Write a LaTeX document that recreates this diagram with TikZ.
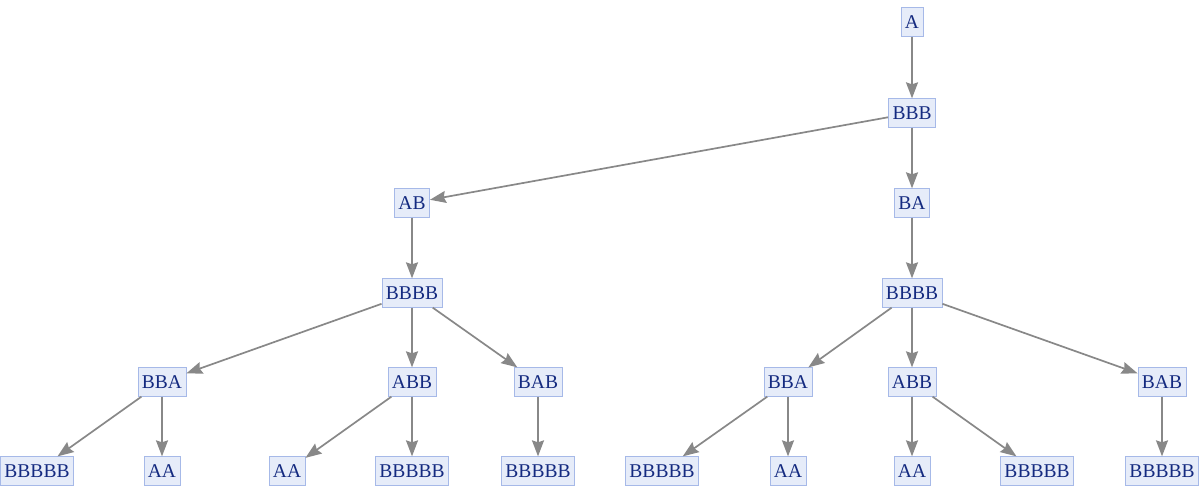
\documentclass[tikz,border=0pt]{standalone}
\usepackage{fontspec}
\setmainfont{Liberation Serif}
\usetikzlibrary{arrows.meta}
\definecolor{nodefill}{HTML}{E6ECF9}
\definecolor{nodedraw}{HTML}{A6B9E8}
\definecolor{nodetext}{HTML}{142A80}
\definecolor{edgecol}{HTML}{888888}
\tikzset{
  vbox/.style={draw=nodedraw, fill=nodefill, text=nodetext, line width=0.8pt,
    font=\fontsize{19.5}{21}\selectfont, inner xsep=4pt, inner ysep=0pt,
    minimum height=28.5pt, text height=13pt, text depth=0pt},
  edge/.style={draw=edgecol, line width=1.7pt, -{Stealth[length=16pt,width=12pt,inset=2pt]}}
}
\begin{document}
\begin{tikzpicture}[x=1pt,y=-1pt]
\useasboundingbox (0,0) rectangle (1202,496);
% rows
\node[vbox] (a) at (912,22) {A};
\node[vbox] (bbb) at (912,113) {BBB};
\node[vbox] (ab) at (412,203) {AB};
\node[vbox] (ba) at (912,203) {BA};
\node[vbox] (l4) at (412,293) {BBBB};
\node[vbox] (r4) at (912,293) {BBBB};
\node[vbox] (lbba) at (162,382) {BBA};
\node[vbox] (labb) at (412,382) {ABB};
\node[vbox] (lbab) at (538,382) {BAB};
\node[vbox] (rbba) at (788,382) {BBA};
\node[vbox] (rabb) at (912,382) {ABB};
\node[vbox] (rbab) at (1162,382) {BAB};
\node[vbox] (x1) at (37,471) {BBBBB};
\node[vbox] (x2) at (162,471) {AA};
\node[vbox] (x3) at (287,471) {AA};
\node[vbox] (x4) at (412,471) {BBBBB};
\node[vbox] (x5) at (538,471) {BBBBB};
\node[vbox] (x6) at (662,471) {BBBBB};
\node[vbox] (x7) at (788,471) {AA};
\node[vbox] (x8) at (912,471) {AA};
\node[vbox] (x9) at (1037,471) {BBBBB};
\node[vbox] (x10) at (1162,471) {BBBBB};
% edges
\draw[edge] (a) -- (bbb);
\draw[edge] (bbb) -- (ab);
\draw[edge] (bbb) -- (ba);
\draw[edge] (ab) -- (l4);
\draw[edge] (ba) -- (r4);
\draw[edge] (l4) -- (lbba);
\draw[edge] (l4) -- (labb);
\draw[edge] (l4) -- (lbab);
\draw[edge] (r4) -- (rbba);
\draw[edge] (r4) -- (rabb);
\draw[edge] (r4) -- (rbab);
\draw[edge] (lbba) -- (x1);
\draw[edge] (lbba) -- (x2);
\draw[edge] (labb) -- (x3);
\draw[edge] (labb) -- (x4);
\draw[edge] (lbab) -- (x5);
\draw[edge] (rbba) -- (x6);
\draw[edge] (rbba) -- (x7);
\draw[edge] (rabb) -- (x8);
\draw[edge] (rabb) -- (x9);
\draw[edge] (rbab) -- (x10);
\end{tikzpicture}
\end{document}
